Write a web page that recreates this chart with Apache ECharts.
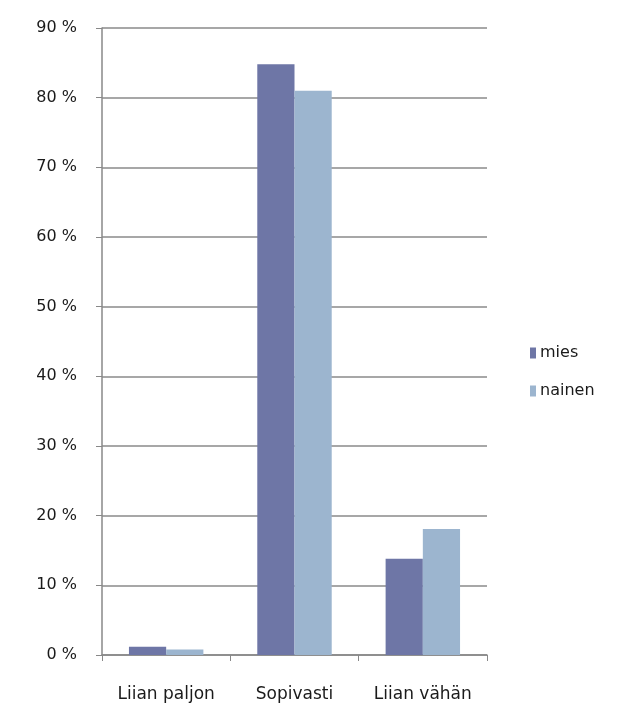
<!DOCTYPE html>
<html><head><meta charset="utf-8">
<script src="https://cdn.jsdelivr.net/npm/echarts@6/dist/echarts.min.js"></script>
<style>html,body{margin:0;padding:0;background:#fff}#c{width:625px;height:709px}</style>
</head><body><div id="c"></div>
<script>
const categories = ['Liian paljon', 'Sopivasti', 'Liian vähän'];
const mies = [1.2, 84.8, 13.8];
const nainen = [0.8, 81.0, 18.1];
const seriesNames = ['mies', 'nainen'];
const yTicks = [0, 10, 20, 30, 40, 50, 60, 70, 80, 90];

const chart = echarts.init(document.getElementById('c'));
const font = '"DejaVu Sans", "Liberation Sans", Arial, sans-serif';
chart.setOption({
  animation: false,
  backgroundColor: '#fff',
  grid: { left: 102, right: 138, top: 28, bottom: 54 },
  legend: {
    orient: 'vertical', left: 525, top: 340,
    itemWidth: 6, itemHeight: 11, itemGap: 22,
    icon: 'rect',
    textStyle: { fontFamily: font, fontSize: 16, color: '#1a1a1a', padding: [0, 0, 0, -1] },
    data: seriesNames
  },
  xAxis: {
    type: 'category', data: categories,
    axisLine: { lineStyle: { color: '#888', width: 1.5 } },
    axisTick: { show: true, length: 6, alignWithLabel: false, lineStyle: { color: '#888' } },
    axisLabel: { fontFamily: font, fontSize: 17, color: '#1a1a1a', margin: 31 }
  },
  yAxis: {
    type: 'value', min: yTicks[0], max: yTicks[yTicks.length - 1], interval: 10,
    axisLine: { show: true, lineStyle: { color: '#888', width: 1.5 } },
    axisTick: { show: true, length: 6, lineStyle: { color: '#888' } },
    splitLine: { lineStyle: { color: '#8a8a8a', width: 1.5 } },
    axisLabel: { fontFamily: font, fontSize: 16, color: '#1a1a1a', margin: 25, formatter: v => v + ' %' }
  },
  series: [
    { name: seriesNames[0], type: 'bar', data: mies, barGap: '0%', barCategoryGap: '42%', itemStyle: { color: '#6e76a6' } },
    { name: seriesNames[1], type: 'bar', data: nainen, itemStyle: { color: '#9cb5cf' } }
  ]
});
</script></body></html>
